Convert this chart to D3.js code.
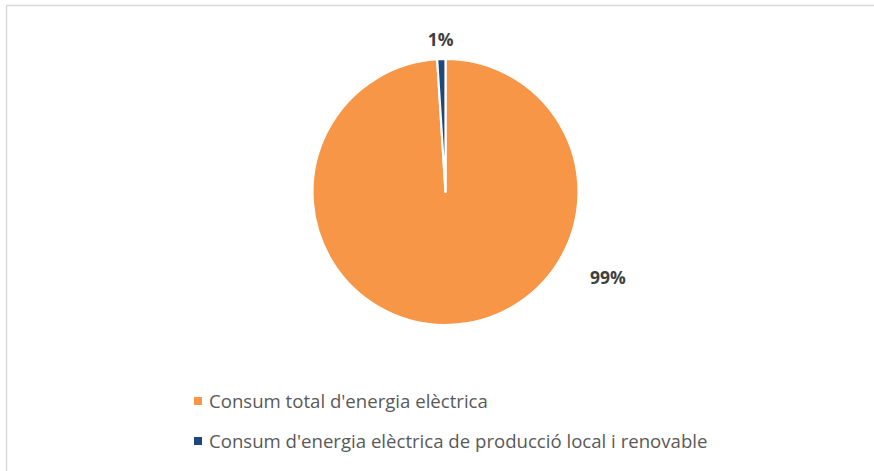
<!DOCTYPE html>
<html>
<head>
<meta charset="utf-8">
<script src="https://cdn.jsdelivr.net/npm/d3@7/dist/d3.min.js"></script>
<style>
  html, body { margin: 0; padding: 0; background: #fff; }
  svg { display: block; }
</style>
</head>
<body>
<svg id="chart" width="874" height="471"></svg>
<script>
// Share of electricity consumption
const categories = [
  "Consum total d'energia elèctrica",
  "Consum d'energia elèctrica de producció local i renovable"
];
const values = [99, 1];
const valueLabels = ["99%", "1%"];
const colors = ["#F79646", "#1F497D"];

const W = 874, H = 471;
const svg = d3.select("#chart");

// chart frame
svg.append("line").attr("x1", 6).attr("x2", W).attr("y1", 5.5).attr("y2", 5.5)
  .attr("stroke", "#d9d9d9").attr("stroke-width", 1.5);
svg.append("line").attr("x1", 6.5).attr("x2", 6.5).attr("y1", 5).attr("y2", H)
  .attr("stroke", "#d9d9d9").attr("stroke-width", 1.5);

const cx = 445.5, cy = 192, r = 133;

const pie = d3.pie().sort(null).value(d => d)(values);
const arc = d3.arc().innerRadius(0).outerRadius(r);

const g = svg.append("g").attr("transform", `translate(${cx},${cy})`);
g.selectAll("path")
  .data(pie)
  .join("path")
  .attr("d", arc)
  .attr("fill", (d, i) => colors[i])
  .attr("stroke", "#fff")
  .attr("stroke-width", 2.2)
  .attr("stroke-linejoin", "round");

// value labels: the large slice label sits outside at lower right,
// the small one just above its slice
const smallLabelArc = d3.arc().innerRadius(r + 20).outerRadius(r + 20);
g.selectAll("text.val")
  .data(pie)
  .join("text")
  .attr("class", "val")
  .attr("transform", (d, i) => {
    if (i === 0) return `translate(${608 - cx},${277 - cy})`;
    const [x, y] = smallLabelArc.centroid(d);
    return `translate(${x},${y})`;
  })
  .attr("text-anchor", "middle")
  .attr("dominant-baseline", "central")
  .attr("font-family", "'Open Sans', sans-serif")
  .attr("font-weight", "bold")
  .attr("font-size", 17.5)
  .attr("fill", "#404040")
  .text((d, i) => valueLabels[i]);

// legend
const legend = svg.append("g");
const legY = d3.scalePoint().domain(categories).range([400, 440]);
const item = legend.selectAll("g")
  .data(categories)
  .join("g")
  .attr("transform", d => `translate(194,${legY(d)})`);
item.append("rect")
  .attr("x", 0).attr("y", -3).attr("width", 8).attr("height", 8)
  .attr("fill", (d, i) => colors[i]);
item.append("text")
  .attr("x", 15)
  .attr("y", 0)
  .attr("dominant-baseline", "central")
  .attr("font-family", "'Open Sans', sans-serif")
  .attr("font-size", 18.6)
  .attr("fill", "#595959")
  .text(d => d);
</script>
</body>
</html>
